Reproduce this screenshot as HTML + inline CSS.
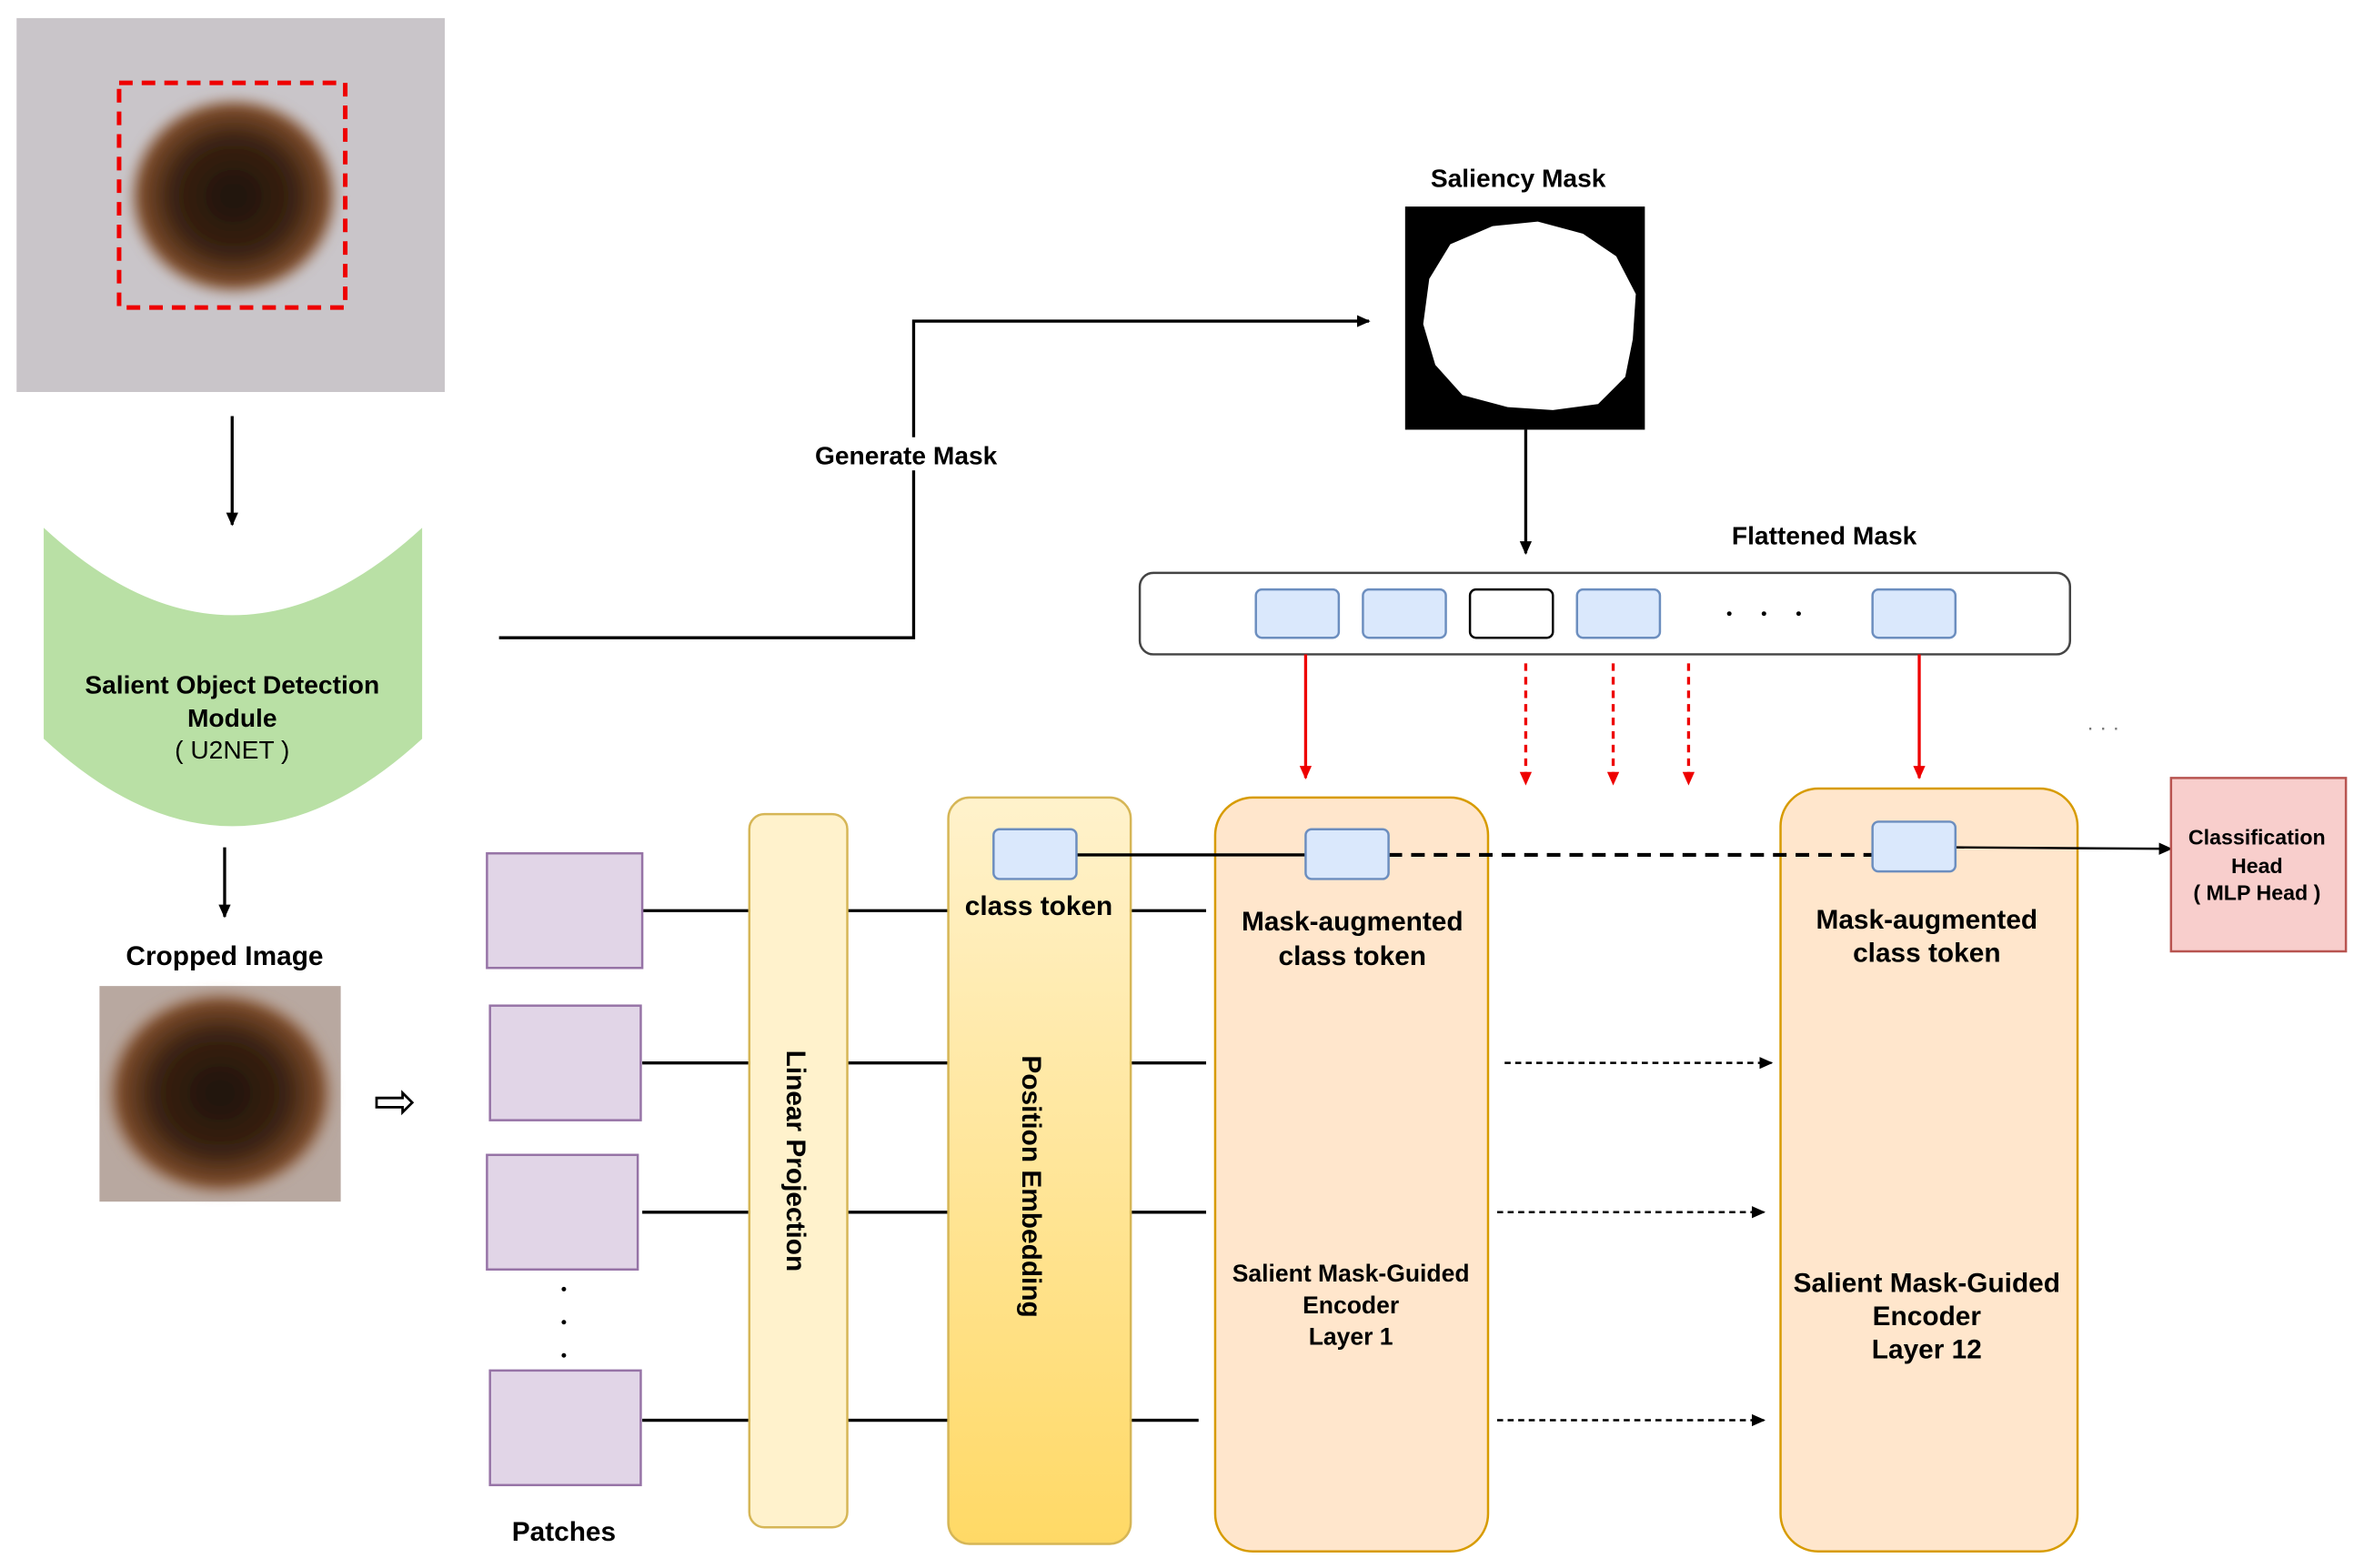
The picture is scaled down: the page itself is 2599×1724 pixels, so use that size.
<!DOCTYPE html>
<html><head><meta charset="utf-8"><style>
html,body{margin:0;padding:0;background:#fff;}
svg{display:block;}
text{font-family:"Liberation Sans",Arial,sans-serif;}
</style></head><body>
<svg width="2599" height="1724" viewBox="0 0 1568 1040" preserveAspectRatio="none" xmlns="http://www.w3.org/2000/svg">
<defs>
<marker id="ab" markerWidth="10" markerHeight="10" refX="8" refY="5" orient="auto" markerUnits="userSpaceOnUse"><path d="M0,1 L9,5 L0,9 Z" fill="#000"/></marker>
<marker id="ar" markerWidth="10" markerHeight="10" refX="8" refY="5" orient="auto" markerUnits="userSpaceOnUse"><path d="M0,1 L9,5 L0,9 Z" fill="#e00"/></marker>
<linearGradient id="pe" x1="0" y1="0" x2="0" y2="1"><stop offset="0" stop-color="#fff2cc"/><stop offset="1" stop-color="#ffd966"/></linearGradient>
<radialGradient id="les" cx="0.5" cy="0.5" r="0.5"><stop offset="0" stop-color="#1e120c"/><stop offset="0.55" stop-color="#3a2212"/><stop offset="0.85" stop-color="#7a4a2a"/><stop offset="1" stop-color="#a57a5e" stop-opacity="0"/></radialGradient>
<filter id="bl"><feGaussianBlur stdDeviation="3"/></filter>
</defs>

<!-- top image -->
<rect x="11" y="12" width="284" height="248" fill="#c9c5c9"/>
<ellipse cx="155" cy="130" rx="72" ry="68" fill="url(#les)" filter="url(#bl)"/>
<rect x="79" y="55" width="150" height="149" fill="none" stroke="#e00" stroke-width="3" stroke-dasharray="9,6"/>
<line x1="154" y1="276" x2="154" y2="348" stroke="#000" stroke-width="2" marker-end="url(#ab)"/>

<!-- green module -->
<path d="M29,350 Q154,466 280,350 L280,490 Q154,606 29,490 Z" fill="#b9e0a5"/>
<text x="154" y="460" font-size="17" font-weight="bold" text-anchor="middle">Salient Object Detection</text>
<text x="154" y="482" font-size="17" font-weight="bold" text-anchor="middle">Module</text>
<text x="154" y="503" font-size="17" text-anchor="middle">( U2NET )</text>
<line x1="149" y1="562" x2="149" y2="608" stroke="#000" stroke-width="2" marker-end="url(#ab)"/>
<text x="149" y="640" font-size="18" font-weight="bold" text-anchor="middle">Cropped Image</text>
<rect x="66" y="654" width="160" height="143" fill="#b8a8a0"/>
<ellipse cx="146" cy="725" rx="78" ry="70" fill="url(#les)" filter="url(#bl)"/>
<text x="262" y="742" font-size="34" text-anchor="middle">⇨</text>

<!-- generate mask -->
<polyline points="331,423 606,423 606,213 908,213" fill="none" stroke="#000" stroke-width="2" marker-end="url(#ab)"/>
<rect x="535" y="290" width="134" height="22" fill="#fff"/>
<text x="601" y="308" font-size="17" font-weight="bold" text-anchor="middle">Generate Mask</text>

<!-- saliency mask -->
<text x="1007" y="124" font-size="17" font-weight="bold" text-anchor="middle">Saliency Mask</text>
<rect x="932" y="137" width="159" height="148" fill="#000"/>
<path d="M990,150 L1020,147 L1050,155 L1072,170 L1085,195 L1083,225 L1078,250 L1060,268 L1030,272 L1000,270 L970,262 L952,242 L944,215 L948,185 L962,162 Z" fill="#fff"/>
<line x1="1012" y1="285" x2="1012" y2="367" stroke="#000" stroke-width="2" marker-end="url(#ab)"/>
<text x="1210" y="361" font-size="17" font-weight="bold" text-anchor="middle">Flattened Mask</text>

<!-- flattened mask -->
<rect x="756" y="380" width="617" height="54" rx="9" fill="#fff" stroke="#444" stroke-width="1.5"/>
<g fill="#dae8fc" stroke="#6c8ebf" stroke-width="1.5">
<rect x="833" y="391" width="55" height="32" rx="4"/>
<rect x="904" y="391" width="55" height="32" rx="4"/>
<rect x="1046" y="391" width="55" height="32" rx="4"/>
<rect x="1242" y="391" width="55" height="32" rx="4"/>
</g>
<rect x="975" y="391" width="55" height="32" rx="4" fill="#fff" stroke="#000" stroke-width="1.5"/>
<circle cx="1147" cy="407" r="1.5"/><circle cx="1170" cy="407" r="1.5"/><circle cx="1193" cy="407" r="1.5"/>

<line x1="866" y1="434" x2="866" y2="516" stroke="#e00" stroke-width="2" marker-end="url(#ar)"/>
<line x1="1273" y1="434" x2="1273" y2="516" stroke="#e00" stroke-width="2" marker-end="url(#ar)"/>
<g stroke="#e00" stroke-width="2" stroke-dasharray="5,4">
<line x1="1012" y1="440" x2="1012" y2="520" marker-end="url(#ar)"/>
<line x1="1070" y1="440" x2="1070" y2="520" marker-end="url(#ar)"/>
<line x1="1120" y1="440" x2="1120" y2="520" marker-end="url(#ar)"/>
</g>
<text x="1395" y="487" font-size="14" fill="#777" text-anchor="middle">· · ·</text>

<!-- patch lines -->
<g stroke="#000" stroke-width="2">
<line x1="426" y1="604" x2="497" y2="604"/><line x1="562" y1="604" x2="629" y2="604"/><line x1="750" y1="604" x2="800" y2="604"/>
<line x1="426" y1="705" x2="497" y2="705"/><line x1="562" y1="705" x2="629" y2="705"/><line x1="750" y1="705" x2="800" y2="705"/>
<line x1="426" y1="804" x2="497" y2="804"/><line x1="562" y1="804" x2="629" y2="804"/><line x1="750" y1="804" x2="800" y2="804"/>
<line x1="426" y1="942" x2="497" y2="942"/><line x1="562" y1="942" x2="629" y2="942"/><line x1="750" y1="942" x2="795" y2="942"/>
</g>

<!-- patches -->
<g fill="#e1d5e7" stroke="#9673a6" stroke-width="1.5">
<rect x="323" y="566" width="103" height="76"/>
<rect x="325" y="667" width="100" height="76"/>
<rect x="323" y="766" width="100" height="76"/>
<rect x="325" y="909" width="100" height="76"/>
</g>
<circle cx="374" cy="855" r="1.5"/><circle cx="374" cy="877" r="1.5"/><circle cx="374" cy="899" r="1.5"/>
<text x="374" y="1022" font-size="18" font-weight="bold" text-anchor="middle">Patches</text>

<!-- linear projection -->
<rect x="497" y="540" width="65" height="473" rx="10" fill="#fff2cc" stroke="#d6b656" stroke-width="1.5"/>
<text transform="translate(522,770) rotate(90)" font-size="18" font-weight="bold" text-anchor="middle">Linear Projection</text>

<!-- position embedding -->
<rect x="629" y="529" width="121" height="495" rx="14" fill="url(#pe)" stroke="#d6b656" stroke-width="1.5"/>
<text transform="translate(678,787) rotate(90)" font-size="18" font-weight="bold" text-anchor="middle">Position Embedding</text>
<text x="689" y="607" font-size="18" font-weight="bold" text-anchor="middle">class token</text>

<!-- encoders -->
<rect x="806" y="529" width="181" height="500" rx="25" fill="#ffe6cc" stroke="#d79b00" stroke-width="1.5"/>
<rect x="1181" y="523" width="197" height="506" rx="25" fill="#ffe6cc" stroke="#d79b00" stroke-width="1.5"/>
<g font-size="18" font-weight="bold" text-anchor="middle">
<text x="897" y="617">Mask-augmented</text><text x="897" y="640">class token</text>
<text x="1278" y="616">Mask-augmented</text><text x="1278" y="638">class token</text>
<text x="1278" y="857">Salient Mask-Guided</text><text x="1278" y="879">Encoder</text><text x="1278" y="901">Layer 12</text>
</g>
<g font-size="16" font-weight="bold" text-anchor="middle">
<text x="896" y="850">Salient Mask-Guided</text><text x="896" y="871">Encoder</text><text x="896" y="892">Layer 1</text>
</g>

<!-- class token lines -->
<line x1="714" y1="567" x2="866" y2="567" stroke="#000" stroke-width="2"/>
<line x1="921" y1="567" x2="1242" y2="567" stroke="#000" stroke-width="2.5" stroke-dasharray="9,6"/>
<line x1="1297" y1="562" x2="1440" y2="563" stroke="#000" stroke-width="1.5" marker-end="url(#ab)"/>
<g fill="#dae8fc" stroke="#6c8ebf" stroke-width="1.5">
<rect x="659" y="550" width="55" height="33" rx="4"/>
<rect x="866" y="550" width="55" height="33" rx="4"/>
<rect x="1242" y="545" width="55" height="33" rx="4"/>
</g>

<!-- dashed arrows between encoders -->
<g stroke="#000" stroke-width="1.5" stroke-dasharray="4,3">
<line x1="998" y1="705" x2="1175" y2="705" marker-end="url(#ab)"/>
<line x1="993" y1="804" x2="1170" y2="804" marker-end="url(#ab)"/>
<line x1="993" y1="942" x2="1170" y2="942" marker-end="url(#ab)"/>
</g>

<!-- classification head -->
<rect x="1440" y="516" width="116" height="115" fill="#f8cecc" stroke="#b85450" stroke-width="1.5"/>
<g font-size="14" font-weight="bold" text-anchor="middle">
<text x="1497" y="560">Classification</text><text x="1497" y="579">Head</text><text x="1497" y="597">( MLP  Head )</text>
</g>
</svg>
</body></html>
